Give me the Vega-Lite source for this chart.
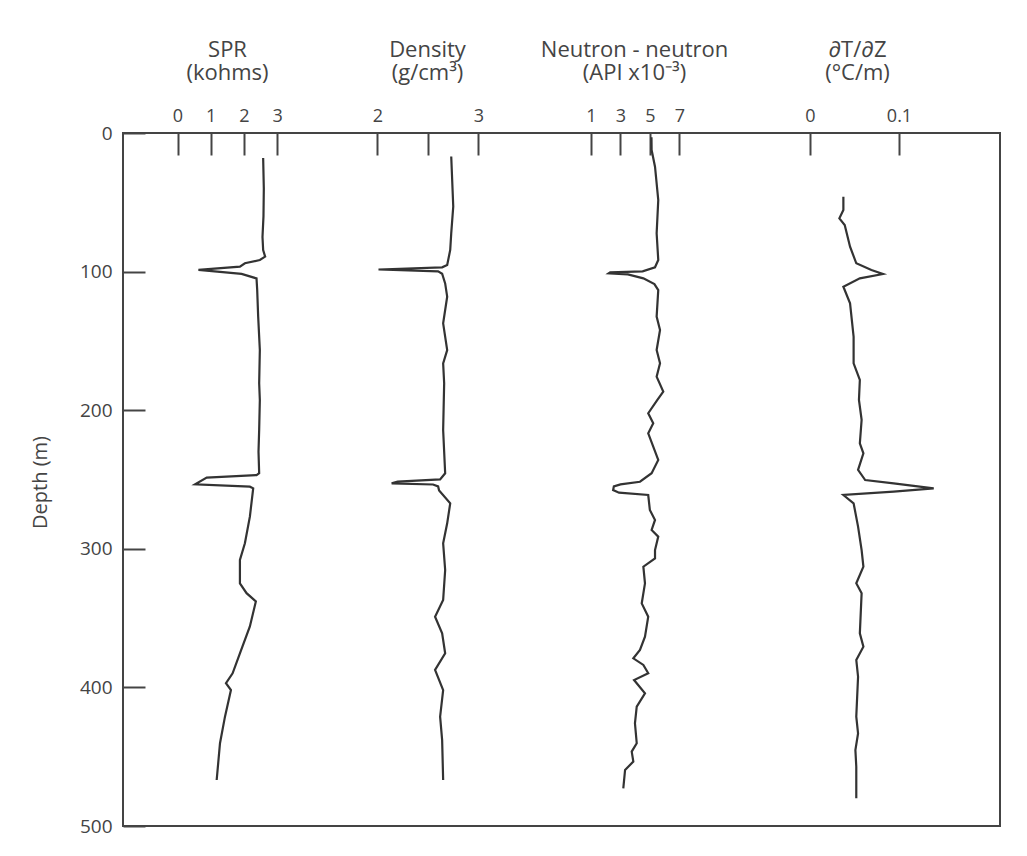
{
  "$schema": "https://vega.github.io/schema/vega-lite/v6.json",
  "width": 877,
  "height": 693,
  "autosize": "none",
  "padding": {"left": 123, "top": 133, "right": 27, "bottom": 30},
  "background": "white",
  "config": {
    "font": "Open Sans",
    "view": {"stroke": "#444", "strokeWidth": 2},
    "axis": {
      "domain": false,
      "grid": false,
      "tickColor": "#444",
      "tickWidth": 2,
      "tickSize": -22,
      "labelFontSize": 18,
      "labelColor": "#444",
      "labelPadding": 30,
      "labelOverlap": false,
      "labelBound": false,
      "labelFlush": false,
      "titleFontSize": 22,
      "titleFontWeight": "normal",
      "titleColor": "#444",
      "titleLineHeight": 23
    }
  },
  "datasets": {
    "spr": [
      {"depth": 18, "value": 2.58}, {"depth": 40, "value": 2.6}, {"depth": 60, "value": 2.59},
      {"depth": 75, "value": 2.56}, {"depth": 84.4, "value": 2.58}, {"depth": 89.2, "value": 2.64},
      {"depth": 91.6, "value": 2.48}, {"depth": 94, "value": 2.03}, {"depth": 96.4, "value": 1.88},
      {"depth": 98.8, "value": 0.63}, {"depth": 101.7, "value": 1.93}, {"depth": 104.9, "value": 2.38},
      {"depth": 113, "value": 2.4}, {"depth": 132.5, "value": 2.43}, {"depth": 156.6, "value": 2.48},
      {"depth": 180.6, "value": 2.46}, {"depth": 192.6, "value": 2.48}, {"depth": 214, "value": 2.46},
      {"depth": 230, "value": 2.44}, {"depth": 245.5, "value": 2.46}, {"depth": 246.8, "value": 2.38},
      {"depth": 248.6, "value": 0.88}, {"depth": 253.5, "value": 0.53}, {"depth": 255.2, "value": 2.18},
      {"depth": 256.4, "value": 2.28}, {"depth": 276.8, "value": 2.18}, {"depth": 296, "value": 2.03},
      {"depth": 308, "value": 1.88}, {"depth": 324.9, "value": 1.88}, {"depth": 332, "value": 2.08},
      {"depth": 338, "value": 2.36}, {"depth": 356, "value": 2.18}, {"depth": 375.4, "value": 1.88},
      {"depth": 389.8, "value": 1.66}, {"depth": 397, "value": 1.46}, {"depth": 401.9, "value": 1.61},
      {"depth": 421.1, "value": 1.43}, {"depth": 440.3, "value": 1.28}, {"depth": 466.8, "value": 1.18}
    ],
    "density": [
      {"depth": 17, "value": 2.73}, {"depth": 53, "value": 2.75}, {"depth": 72.4, "value": 2.73},
      {"depth": 84.4, "value": 2.72}, {"depth": 95.2, "value": 2.69}, {"depth": 96.9, "value": 2.64},
      {"depth": 98.5, "value": 2.01}, {"depth": 99.8, "value": 2.6}, {"depth": 101.5, "value": 2.64},
      {"depth": 108.5, "value": 2.67}, {"depth": 118.1, "value": 2.69}, {"depth": 137.3, "value": 2.65},
      {"depth": 156.6, "value": 2.69}, {"depth": 166.2, "value": 2.65}, {"depth": 180.6, "value": 2.66},
      {"depth": 214.3, "value": 2.65}, {"depth": 245.5, "value": 2.67}, {"depth": 249.9, "value": 2.62},
      {"depth": 251.5, "value": 2.2}, {"depth": 252.8, "value": 2.14}, {"depth": 253.6, "value": 2.55},
      {"depth": 255, "value": 2.6}, {"depth": 258, "value": 2.61}, {"depth": 267.2, "value": 2.72},
      {"depth": 281.6, "value": 2.69}, {"depth": 296, "value": 2.65}, {"depth": 315.3, "value": 2.67},
      {"depth": 337, "value": 2.65}, {"depth": 349, "value": 2.57}, {"depth": 361, "value": 2.64},
      {"depth": 375.4, "value": 2.67}, {"depth": 387.4, "value": 2.57}, {"depth": 401.9, "value": 2.65},
      {"depth": 421.1, "value": 2.62}, {"depth": 438, "value": 2.64}, {"depth": 466.8, "value": 2.65}
    ],
    "neutron": [
      {"depth": 3, "value": 5.1}, {"depth": 12.3, "value": 5.11}, {"depth": 24.3, "value": 5.34},
      {"depth": 48.3, "value": 5.56}, {"depth": 72.4, "value": 5.45}, {"depth": 91.6, "value": 5.56},
      {"depth": 96.9, "value": 5.34}, {"depth": 99.8, "value": 4.5}, {"depth": 100.5, "value": 2.3},
      {"depth": 101.2, "value": 2.2}, {"depth": 102, "value": 3.5}, {"depth": 104.9, "value": 4.55},
      {"depth": 109, "value": 5.3}, {"depth": 113.3, "value": 5.56}, {"depth": 132.5, "value": 5.45},
      {"depth": 142.1, "value": 5.68}, {"depth": 156.6, "value": 5.45}, {"depth": 166.2, "value": 5.68},
      {"depth": 175.8, "value": 5.45}, {"depth": 186.6, "value": 5.9}, {"depth": 192.6, "value": 5.5},
      {"depth": 202.2, "value": 4.88}, {"depth": 209.5, "value": 5.22}, {"depth": 216.7, "value": 4.88},
      {"depth": 235.9, "value": 5.56}, {"depth": 245.5, "value": 5.11}, {"depth": 251.6, "value": 4.32},
      {"depth": 253.5, "value": 3.0}, {"depth": 255, "value": 2.55}, {"depth": 257.6, "value": 2.5},
      {"depth": 259.5, "value": 2.9}, {"depth": 261.2, "value": 4.88}, {"depth": 272, "value": 4.99},
      {"depth": 279.2, "value": 5.34}, {"depth": 286.4, "value": 5.11}, {"depth": 291.2, "value": 5.56},
      {"depth": 300.9, "value": 5.34}, {"depth": 306.9, "value": 5.34}, {"depth": 312.9, "value": 4.55},
      {"depth": 324.9, "value": 4.66}, {"depth": 339.4, "value": 4.44}, {"depth": 349, "value": 4.88},
      {"depth": 363.4, "value": 4.66}, {"depth": 373, "value": 4.32}, {"depth": 379, "value": 3.87},
      {"depth": 383.8, "value": 4.55}, {"depth": 389.8, "value": 4.88}, {"depth": 394.7, "value": 3.92},
      {"depth": 404.3, "value": 4.66}, {"depth": 413.9, "value": 4.1}, {"depth": 425.9, "value": 3.98},
      {"depth": 440.3, "value": 4.1}, {"depth": 446.3, "value": 3.76}, {"depth": 453.5, "value": 3.87},
      {"depth": 459.6, "value": 3.31}, {"depth": 472.8, "value": 3.19}
    ],
    "gradient": [
      {"depth": 46, "value": 0.0375}, {"depth": 55.6, "value": 0.0375}, {"depth": 61.6, "value": 0.033},
      {"depth": 66.4, "value": 0.039}, {"depth": 82, "value": 0.045}, {"depth": 94, "value": 0.052},
      {"depth": 98.8, "value": 0.069}, {"depth": 101.7, "value": 0.082}, {"depth": 104.9, "value": 0.056},
      {"depth": 110.9, "value": 0.0375}, {"depth": 122.9, "value": 0.045}, {"depth": 147, "value": 0.049},
      {"depth": 166.2, "value": 0.049}, {"depth": 178.2, "value": 0.056}, {"depth": 192.6, "value": 0.055},
      {"depth": 207, "value": 0.058}, {"depth": 223.9, "value": 0.056}, {"depth": 231.1, "value": 0.06},
      {"depth": 243.1, "value": 0.054}, {"depth": 250.4, "value": 0.062}, {"depth": 252.8, "value": 0.094},
      {"depth": 256.4, "value": 0.139}, {"depth": 258.8, "value": 0.094}, {"depth": 261.2, "value": 0.0375},
      {"depth": 267.2, "value": 0.049}, {"depth": 284, "value": 0.054}, {"depth": 300.9, "value": 0.058},
      {"depth": 312.9, "value": 0.06}, {"depth": 324.9, "value": 0.052}, {"depth": 332, "value": 0.058},
      {"depth": 361, "value": 0.056}, {"depth": 370.6, "value": 0.06}, {"depth": 380.2, "value": 0.052},
      {"depth": 392.3, "value": 0.054}, {"depth": 421.1, "value": 0.052}, {"depth": 433.2, "value": 0.054},
      {"depth": 445.2, "value": 0.051}, {"depth": 457.2, "value": 0.052}, {"depth": 480, "value": 0.052}
    ]
  },
  "encoding": {
    "y": {
      "field": "depth", "type": "quantitative",
      "scale": {"domain": [0, 500], "reverse": true, "nice": false, "zero": false},
      "axis": {
        "orient": "left", "values": [0, 100, 200, 300, 400, 500],
        "title": "Depth (m)", "titleX": -83, "titleY": 349, "titleAngle": -90,
        "titleBaseline": "middle", "titleAlign": "center", "titleFontSize": 20,
        "labelFontSize": 19, "labelPadding": 33
      }
    },
    "order": {"field": "depth", "type": "quantitative"}
  },
  "layer": [
    {
      "data": {"name": "spr"},
      "mark": {"type": "line", "stroke": "#333", "strokeWidth": 2.2},
      "encoding": {
        "x": {
          "field": "value", "type": "quantitative",
          "scale": {"domain": [-1.6416, 24.774], "nice": false, "zero": false},
          "axis": {
            "orient": "top", "values": [0, 1, 2, 3],
            "title": ["SPR", "(kohms)"], "titleX": 104, "titleY": -94,
            "titleBaseline": "top", "titleAlign": "center"
          }
        }
      }
    },
    {
      "data": {"name": "density"},
      "mark": {"type": "line", "stroke": "#333", "strokeWidth": 2.2},
      "encoding": {
        "x": {
          "field": "value", "type": "quantitative",
          "scale": {"domain": [-0.5198, 8.1634], "nice": false, "zero": false},
          "axis": {
            "orient": "top", "values": [2, 2.5, 3],
            "labelExpr": "datum.value == 2.5 ? '' : datum.label",
            "title": ["Density", "(g/cm³)"], "titleX": 304, "titleY": -94,
            "titleBaseline": "top", "titleAlign": "center"
          }
        }
      }
    },
    {
      "data": {"name": "neutron"},
      "mark": {"type": "line", "stroke": "#333", "strokeWidth": 2.2},
      "encoding": {
        "x": {
          "field": "value", "type": "quantitative",
          "scale": {"domain": [-30.729, 28.729], "nice": false, "zero": false},
          "axis": {
            "orient": "top", "values": [1, 3, 5, 7],
            "title": ["Neutron - neutron", "(API x10⁻³)"], "titleX": 511, "titleY": -94,
            "titleBaseline": "top", "titleAlign": "center"
          }
        }
      }
    },
    {
      "data": {"name": "gradient"},
      "mark": {"type": "line", "stroke": "#333", "strokeWidth": 2.2},
      "encoding": {
        "x": {
          "field": "value", "type": "quantitative",
          "scale": {"domain": [-0.77191, 0.21348], "nice": false, "zero": false},
          "axis": {
            "orient": "top", "values": [0, 0.1], "format": "~g",
            "title": ["∂T/∂Z", "(°C/m)"], "titleX": 734, "titleY": -94,
            "titleBaseline": "top", "titleAlign": "center"
          }
        }
      }
    }
  ],
  "resolve": {"scale": {"x": "independent"}, "axis": {"x": "independent"}}
}
